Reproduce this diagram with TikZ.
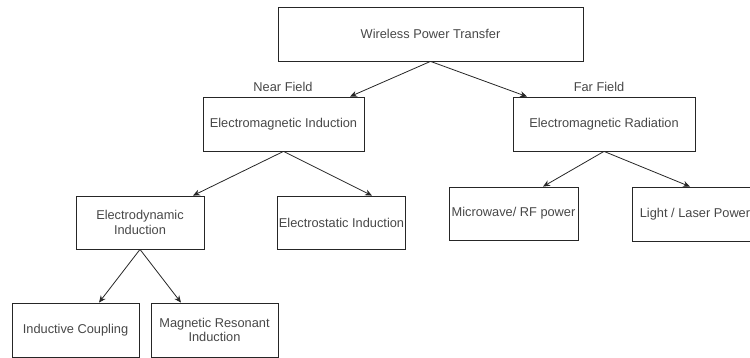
\documentclass[tikz,border=0pt]{standalone}
\usepackage{fontspec}
\setmainfont{Liberation Sans}
\usetikzlibrary{positioning,arrows.meta}
\tikzset{
  box/.style={draw=black!85, line width=0.8pt, minimum height=54pt, inner sep=1pt,
    align=center, text=black!72, font=\fontsize{12.8}{14.5}\selectfont},
  link/.style={draw=black!85, line width=0.8pt, -{Stealth[length=7pt,width=6pt]}},
  fieldlbl/.style={inner sep=1pt, text=black!72, font=\fontsize{12.8}{14.5}\selectfont}
}
\begin{document}
\begin{tikzpicture}[x=1pt,y=-1pt]
		\useasboundingbox (0,0) rectangle (750,358);
		%Top of the tree
		\node[box, minimum width=305pt] (wpt) at (430.5,34) {Wireless Power Transfer};
		\node[box, minimum width=161pt] (emi) at (283.5,124) {Electromagnetic Induction};
		\node[box, minimum width=182pt] (emr) at (604,124) {Electromagnetic Radiation};
		\node[fieldlbl] (nearlbl) at (283,87) {Near Field};
		\node[fieldlbl] (farlbl) at (599,87) {Far Field};
		%Near field branch
		\node[box, minimum width=128pt, minimum height=53pt] (ed) at (140,222.5) {Electrodynamic\\Induction};
		\node[box, minimum width=127pt, minimum height=53pt] (es) at (341.5,222.5) {Electrostatic Induction};
		\node[box, minimum width=127pt] (ic) at (75.5,330) {Inductive Coupling};
		\node[box, minimum width=127pt] (mri) at (214.5,330) {Magnetic Resonant\\Induction};
		%Far field branch
		\node[box, minimum width=129pt, minimum height=53pt] (mw) at (513.5,213.5) {Microwave/ RF power};
		\node[box, minimum width=126pt] (ll) at (695,214) {Light / Laser Power};
		%Arrows
		\draw[link] (wpt.south) -- ([xshift=66.5pt]emi.north);
		\draw[link] (wpt.south) -- ([xshift=-77pt]emr.north);
		\draw[link] (emi.south) -- ([xshift=53pt]ed.north);
		\draw[link] (emi.south) -- ([xshift=30.5pt]es.north);
		\draw[link] (emr.south) -- ([xshift=29.5pt]mw.north);
		\draw[link] (emr.south) -- ([xshift=-5pt]ll.north);
		\draw[link] (ed.south) -- ([xshift=23.5pt]ic.north);
		\draw[link] (ed.south) -- ([xshift=-33.5pt]mri.north);
\end{tikzpicture}
\end{document}
